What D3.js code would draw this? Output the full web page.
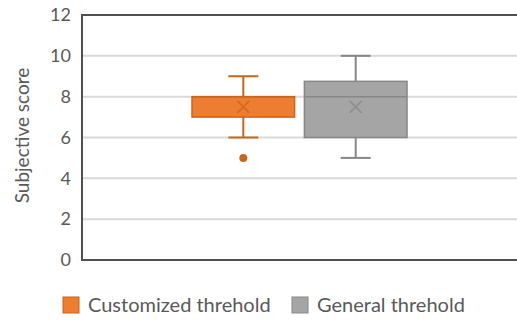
<!DOCTYPE html>
<html>
<head>
<meta charset="utf-8">
<script src="https://cdn.jsdelivr.net/npm/d3@7"></script>
<style>
  body { margin: 0; background: #fff; }
  text { font-family: Lato, "Open Sans", sans-serif; fill: #595959; }
</style>
</head>
<body>
<script>
let width = 517,
    height = 320;

// data
let categories = ["Customized threhold", "General threhold"];
let whiskerLow = [6, 5];
let q1 = [7, 6];
let median = [8, 8];
let q3 = [8, 8.75];
let whiskerHigh = [9, 10];
let means = [7.5, 7.5];
let outliers = [[5], []];
let yTicks = [0, 2, 4, 6, 8, 10, 12];

let fills = ["#ED7D31", "#A5A5A5"];
let strokes = ["#C8651F", "#878787"];

let plot = {left: 82, top: 15, right: 530, bottom: 260};

let svg = d3.select("body")
            .append("svg")
            .attr("width", width)
            .attr("height", height);

let yScale = d3.scaleLinear()
               .domain([0, 12])
               .range([plot.bottom, plot.top]);

let xScale = d3.scaleBand()
               .domain(categories)
               .range([192, 407])
               .paddingInner(0.087);

// gridlines
svg.append("g")
   .selectAll("line")
   .data(yTicks.filter(d => d > 0 && d < 12))
   .enter()
   .append("line")
   .attr("x1", plot.left)
   .attr("x2", plot.right)
   .attr("y1", d => yScale(d))
   .attr("y2", d => yScale(d))
   .attr("stroke", "#d9d9d9")
   .attr("stroke-width", 2);

// plot frame (left, top, bottom)
svg.append("path")
   .attr("d", "M" + plot.right + "," + yScale(12) + "H" + plot.left + "V" + yScale(0) + "H" + plot.right)
   .attr("fill", "none")
   .attr("stroke", "#505050")
   .attr("stroke-width", 2);

// y axis labels
let yAxis = d3.axisLeft(yScale).tickValues(yTicks).tickSize(0).tickPadding(11);
let yg = svg.append("g")
   .attr("transform", "translate(" + plot.left + ",0)")
   .call(yAxis);
yg.select(".domain").remove();
yg.selectAll("text")
  .style("font-size", "18px")
  .style("font-family", "Lato, sans-serif")
  .attr("fill", "#595959");

svg.append("text")
   .attr("transform", "translate(29," + ((plot.top + plot.bottom) / 2 - 2) + ") rotate(-90)")
   .attr("text-anchor", "middle")
   .style("font-size", "19px")
   .text("Subjective score");

// boxes
let boxes = svg.selectAll("g.box")
   .data(categories)
   .enter()
   .append("g")
   .attr("class", "box");

let capW = 30;

boxes.append("line")
   .attr("x1", d => xScale(d) + xScale.bandwidth() / 2)
   .attr("x2", d => xScale(d) + xScale.bandwidth() / 2)
   .attr("y1", (d, i) => yScale(whiskerLow[i]))
   .attr("y2", (d, i) => yScale(whiskerHigh[i]))
   .attr("stroke", (d, i) => strokes[i])
   .attr("stroke-width", 2);

boxes.selectAll("line.cap")
   .data((d, i) => [whiskerLow[i], whiskerHigh[i]].map(v => ({c: d, i: i, v: v})))
   .enter()
   .append("line")
   .attr("class", "cap")
   .attr("x1", d => xScale(d.c) + xScale.bandwidth() / 2 - capW / 2)
   .attr("x2", d => xScale(d.c) + xScale.bandwidth() / 2 + capW / 2)
   .attr("y1", d => yScale(d.v))
   .attr("y2", d => yScale(d.v))
   .attr("stroke", d => strokes[d.i])
   .attr("stroke-width", 2);

boxes.append("rect")
   .attr("x", d => xScale(d))
   .attr("width", xScale.bandwidth())
   .attr("y", (d, i) => yScale(q3[i]))
   .attr("height", (d, i) => yScale(q1[i]) - yScale(q3[i]))
   .attr("fill", (d, i) => fills[i])
   .attr("stroke", (d, i) => strokes[i])
   .attr("stroke-width", 1.5);

boxes.append("line")
   .attr("x1", d => xScale(d))
   .attr("x2", d => xScale(d) + xScale.bandwidth())
   .attr("y1", (d, i) => yScale(median[i]))
   .attr("y2", (d, i) => yScale(median[i]))
   .attr("stroke", (d, i) => strokes[i])
   .attr("stroke-width", 1.5);

// mean markers (x)
let m = 6;
boxes.append("path")
   .attr("d", (d, i) => {
       let cx = xScale(d) + xScale.bandwidth() / 2, cy = yScale(means[i]);
       return "M" + (cx - m) + "," + (cy - m) + "L" + (cx + m) + "," + (cy + m) +
              "M" + (cx - m) + "," + (cy + m) + "L" + (cx + m) + "," + (cy - m);
   })
   .attr("stroke", (d, i) => strokes[i])
   .attr("stroke-opacity", 0.8)
   .attr("stroke-width", 1.5)
   .attr("fill", "none");

boxes.selectAll("circle")
   .data((d, i) => outliers[i].map(v => ({c: d, i: i, v: v})))
   .enter()
   .append("circle")
   .attr("cx", d => xScale(d.c) + xScale.bandwidth() / 2)
   .attr("cy", d => yScale(d.v))
   .attr("r", 4)
   .attr("fill", d => strokes[d.i]);

// legend
let legendX = [63, 292];
let legend = svg.selectAll("g.legend")
   .data(categories)
   .enter()
   .append("g")
   .attr("class", "legend")
   .attr("transform", (d, i) => "translate(" + legendX[i] + ",297)");

legend.append("rect")
   .attr("width", 16)
   .attr("height", 16)
   .attr("fill", (d, i) => fills[i])
   .attr("stroke", (d, i) => strokes[i])
   .attr("stroke-width", 1);

legend.append("text")
   .attr("x", 25)
   .attr("y", 15)
   .style("font-size", "20px")
   .text(d => d);
</script>
</body>
</html>
